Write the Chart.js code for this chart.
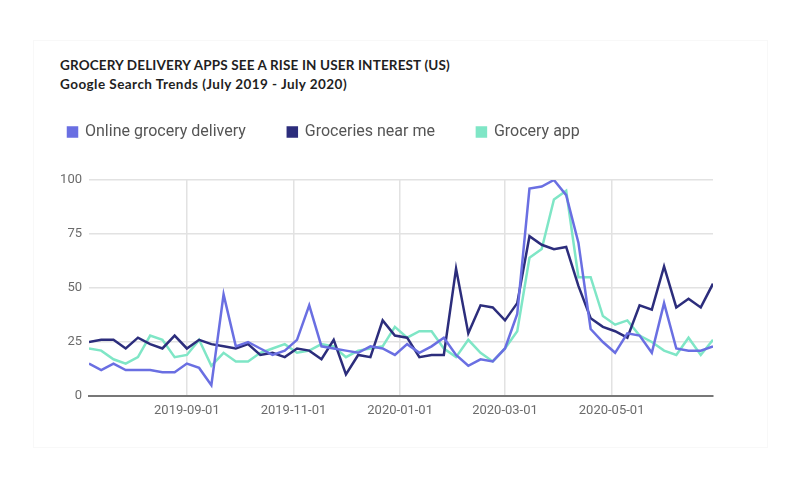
<!DOCTYPE html>
<html>
<head>
<meta charset="utf-8">
<script src="https://cdn.jsdelivr.net/npm/chart.js@4"></script>
<style>
  body { margin: 0; background: #fff; }
  #wrap { position: relative; width: 800px; height: 487px; overflow: hidden; }
  .card { position: absolute; left: 33px; top: 40px; width: 733px; height: 406px;
          border: 1px solid #f8f8f8; }
  .head { position: absolute; left: 60px; top: 56px; font-family: Lato, sans-serif;
          font-weight: 700; color: #1f1f1f; font-size: 13.5px; line-height: 19px; }
  .head .t { letter-spacing: 0.15px; }
  .head .s { letter-spacing: 0.45px; }
  canvas { position: absolute; left: 0; top: 0; }
</style>
</head>
<body>
<div id="wrap">
  <div class="card"></div>
  <div class="head"><span class="t">GROCERY DELIVERY APPS SEE A RISE IN USER INTEREST (US)</span><br><span class="s">Google Search Trends (July 2019 - July 2020)</span></div>
  <canvas id="trendChart" width="800" height="487"></canvas>
</div>
<script>
const weeks = [
  '2019-07-07', '2019-07-14', '2019-07-21', '2019-07-28', '2019-08-04', '2019-08-11', '2019-08-18', '2019-08-25',
  '2019-09-01', '2019-09-08', '2019-09-15', '2019-09-22', '2019-09-29', '2019-10-06', '2019-10-13', '2019-10-20',
  '2019-10-27', '2019-11-03', '2019-11-10', '2019-11-17', '2019-11-24', '2019-12-01', '2019-12-08', '2019-12-15',
  '2019-12-22', '2019-12-29', '2020-01-05', '2020-01-12', '2020-01-19', '2020-01-26', '2020-02-02', '2020-02-09',
  '2020-02-16', '2020-02-23', '2020-03-01', '2020-03-08', '2020-03-15', '2020-03-22', '2020-03-29', '2020-04-05',
  '2020-04-12', '2020-04-19', '2020-04-26', '2020-05-03', '2020-05-10', '2020-05-17', '2020-05-24', '2020-05-31',
  '2020-06-07', '2020-06-14', '2020-06-21', '2020-06-28'
];

const onlineDelivery = [
  15, 12, 15, 12, 12, 12, 11, 11, 15, 13, 5, 47, 23, 25, 22, 19, 21, 26, 42, 23, 22, 21, 20, 23, 22, 19,
  24, 20, 23, 27, 19, 14, 17, 16, 22, 38, 96, 97, 100, 93, 71, 31, 25, 20, 29, 28, 20, 43, 22, 21, 21, 23
];
const nearMe = [
  25, 26, 26, 22, 27, 24, 22, 28, 22, 26, 24, 23, 22, 24, 19, 20, 18, 22, 21, 17, 26, 10, 19, 18, 35, 28,
  27, 18, 19, 19, 59, 29, 42, 41, 35, 43, 74, 70, 68, 69, 51, 36, 32, 30, 27, 42, 40, 60, 41, 45, 41, 52
];
const groceryApp = [
  22, 21, 17, 15, 18, 28, 26, 18, 19, 26, 14, 20, 16, 16, 20, 22, 24, 20, 21, 24, 23, 18, 21, 22, 23, 32,
  27, 30, 30, 22, 18, 26, 20, 16, 22, 30, 64, 68, 91, 95, 55, 55, 37, 33, 35, 28, 25, 21, 19, 27, 19, 26
];

const tickLabels = ['2019-09-01', '2019-11-01', '2020-01-01', '2020-03-01', '2020-05-01'];
const yTicks = [0, 25, 50, 75, 100];

// days since first week, so month ticks land in the right place
const dayOf = s => (Date.parse(s) - Date.parse(weeks[0])) / 86400000;
const toPoints = vals => vals.map((v, i) => ({ x: dayOf(weeks[i]), y: v }));

const legendPad = 42;

const legendSpace = {
  id: 'legendSpace',
  beforeInit(chart) {
    const fit = chart.legend.fit;
    chart.legend.fit = function () {
      fit.bind(chart.legend)();
      this.height += 30;
    };
  }
};

const ctx = document.getElementById('trendChart').getContext('2d');
new Chart(ctx, {
  type: 'line',
  data: {
    datasets: [{
      label: 'Online grocery delivery',
      data: toPoints(onlineDelivery),
      borderColor: '#6a6fe2',
      backgroundColor: '#6a6fe2'
    }, {
      label: 'Groceries near me',
      data: toPoints(nearMe),
      borderColor: '#2c2d7c',
      backgroundColor: '#2c2d7c'
    }, {
      label: 'Grocery app',
      data: toPoints(groceryApp),
      borderColor: '#7fe6c6',
      backgroundColor: '#7fe6c6'
    }]
  },
  plugins: [legendSpace],
  options: {
    responsive: false,
    animation: false,
    layout: { padding: { left: 68 - legendPad, top: 132 - legendPad - 8, right: 87, bottom: 70 } },
    elements: {
      line: { borderWidth: 2.5, tension: 0 },
      point: { radius: 0 }
    },
    plugins: {
      legend: {
        position: 'top',
        align: 'start',
        labels: {
          boxWidth: 9,
          boxHeight: 9,
          padding: legendPad,
          color: '#555',
          font: { family: 'Roboto', size: 16 }
        }
      },
      title: { display: false },
      tooltip: { enabled: false }
    },
    scales: {
      x: {
        type: 'linear',
        min: 0,
        max: dayOf(weeks[weeks.length - 1]),
        afterBuildTicks: axis => {
          axis.ticks = tickLabels.map(t => ({ value: dayOf(t) }));
        },
        afterFit: axis => { axis.height = 21; },
        ticks: {
          callback: (v, i) => tickLabels[i],
          color: '#6b6b6b',
          font: { family: 'Roboto', size: 13 },
          padding: 7,
          maxRotation: 0
        },
        grid: { color: '#e2e2e2', lineWidth: 1.5, drawTicks: false },
        border: { display: true, color: '#777', width: 2 }
      },
      y: {
        min: 0,
        max: 100,
        afterBuildTicks: axis => {
          axis.ticks = yTicks.map(v => ({ value: v }));
        },
        afterFit: axis => { axis.width = 89 - (68 - legendPad); },
        ticks: {
          color: '#6b6b6b',
          font: { family: 'Roboto', size: 13 },
          padding: 7
        },
        grid: {
          color: c => (c.tick && c.tick.value === 0 ? 'rgba(0,0,0,0)' : '#e2e2e2'),
          lineWidth: 1.5,
          drawTicks: false
        },
        border: { display: false }
      }
    }
  }
});
</script>
</body>
</html>
